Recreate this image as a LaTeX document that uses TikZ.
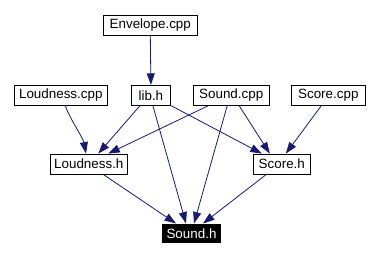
\documentclass[tikz,border=0pt]{standalone}
\usepackage{fontspec}
\setmainfont{Liberation Sans}
\usetikzlibrary{arrows.meta}
\definecolor{edgeblue}{RGB}{25,25,112}
\tikzset{
  file/.style={draw=black, line width=0.9pt, fill=white, inner sep=0pt,
    font=\fontsize{13.4}{15}\selectfont, text=black},
  current/.style={file, fill=black, text=white},
  dep/.style={draw=edgeblue, line width=0.8pt,
    -{Triangle[length=11.5pt,width=8pt]}, fill=none},
}
\begin{document}
\begin{tikzpicture}[x=1pt, y=-1pt]
\useasboundingbox (0,0) rectangle (377,257);

% source and header nodes
\node[file, minimum width=94pt, minimum height=19.7pt] (env) at (150.3,25.2) {Envelope.cpp};
\node[file, minimum width=93pt, minimum height=20pt] (lcpp) at (60.8,95.3) {Loudness.cpp};
\node[file, minimum width=39.7pt, minimum height=20pt] (lib) at (150.9,95.3) {lib.h};
\node[file, minimum width=75.7pt, minimum height=20pt] (scpp) at (231.2,95.3) {Sound.cpp};
\node[file, minimum width=74pt, minimum height=20pt] (sccpp) at (328.3,95.3) {Score.cpp};
\node[file, minimum width=77pt, minimum height=20.3pt] (lh) at (88.8,164.2) {Loudness.h};
\node[file, minimum width=57pt, minimum height=20.3pt] (sch) at (281.8,164.2) {Score.h};
\node[current, minimum width=58.4pt, minimum height=18.7pt] (sh) at (191.5,233.3) {Sound.h};

% include dependencies
\draw[dep] (env.south) -- (lib.north);
\draw[dep] ([xshift=4.5pt]lcpp.south) .. controls +(5,14) and +(-3,-16) .. ([xshift=-2.8pt]lh.north);
\draw[dep] ([xshift=-11pt]lib.south) -- ([xshift=9.5pt]lh.north);
\draw[dep] ([xshift=2pt]lib.south) -- ([xshift=-5.5pt]sh.north);
\draw[dep] (lib.south east) -- ([xshift=-20pt]sch.north);
\draw[dep] ([xshift=-23pt]scpp.south) -- ([xshift=19.5pt]lh.north);
\draw[dep] ([xshift=-4pt]scpp.south) -- ([xshift=2.5pt]sh.north);
\draw[dep] ([xshift=8pt]scpp.south) -- ([xshift=-12pt]sch.north);
\draw[dep] ([xshift=-7pt]sccpp.south) -- ([xshift=4pt]sch.north);
\draw[dep] ([xshift=15pt]lh.south) -- ([xshift=-15.5pt]sh.north);
\draw[dep] ([xshift=-16pt]sch.south) -- ([xshift=11.5pt]sh.north);
\end{tikzpicture}
\end{document}
